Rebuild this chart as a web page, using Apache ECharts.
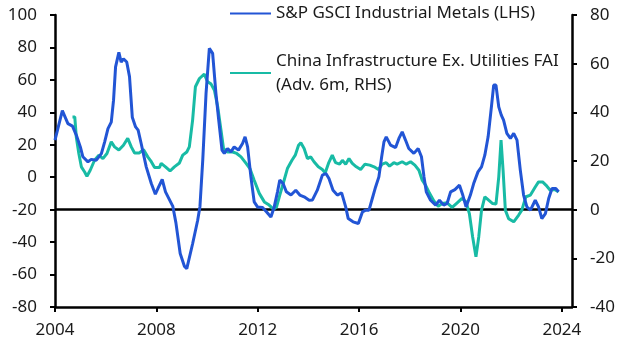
<!DOCTYPE html>
<html>
<head>
<meta charset="utf-8">
<script src="https://cdn.jsdelivr.net/npm/echarts@6/dist/echarts.min.js"></script>
<style>
  html, body { margin: 0; padding: 0; background: #fff; }
  #chart { width: 626px; height: 352px; }
</style>
</head>
<body>
<div id="chart"></div>
<script>
// S&P GSCI Industrial Metals, % y/y (LHS)
const metalsYears = [
  2004.0, 2004.29, 2004.51, 2004.69, 2004.84, 2005.0, 2005.1, 2005.3, 2005.43, 2005.63,
  2005.83, 2005.96, 2006.09, 2006.22, 2006.31, 2006.39, 2006.52, 2006.61, 2006.7, 2006.83,
  2006.94, 2007.05, 2007.18, 2007.28, 2007.4, 2007.6, 2007.8, 2007.96, 2008.09, 2008.23,
  2008.36, 2008.49, 2008.65, 2008.77, 2008.94, 2009.11, 2009.2, 2009.43, 2009.63, 2009.72,
  2009.83, 2009.96, 2010.09, 2010.22, 2010.35, 2010.46, 2010.59, 2010.68, 2010.81, 2010.94,
  2011.07, 2011.24, 2011.4, 2011.5, 2011.6, 2011.73, 2011.86, 2011.99, 2012.19, 2012.35,
  2012.52, 2012.65, 2012.78, 2012.87, 2013.0, 2013.13, 2013.31, 2013.5, 2013.66, 2013.83,
  2014.03, 2014.16, 2014.35, 2014.55, 2014.69, 2014.81, 2014.97, 2015.14, 2015.31, 2015.47,
  2015.57, 2015.76, 2015.97, 2016.13, 2016.26, 2016.39, 2016.52, 2016.65, 2016.78, 2016.89,
  2016.98, 2017.07, 2017.24, 2017.44, 2017.57, 2017.7, 2017.83, 2017.96, 2018.16, 2018.33,
  2018.46, 2018.56, 2018.65, 2018.82, 2019.02, 2019.17, 2019.34, 2019.47, 2019.61, 2019.78,
  2019.96, 2020.09, 2020.22, 2020.39, 2020.52, 2020.69, 2020.83, 2020.96, 2021.09, 2021.22,
  2021.31, 2021.4, 2021.51, 2021.61, 2021.7, 2021.83, 2021.97, 2022.1, 2022.23, 2022.36,
  2022.49, 2022.62, 2022.76, 2022.95, 2023.08, 2023.21, 2023.35, 2023.48, 2023.61, 2023.76,
  2023.87
];
const metalsValues = [
  22.8, 41, 33, 31.5, 26, 18.7, 12.6, 9.5, 11, 10.5,
  14.6, 21.8, 30, 34, 47.5, 68, 77, 71, 73, 71,
  62, 37, 31, 29, 20.8, 6.4, -3.9, -10.5, -6, -1.4,
  -9, -13, -18, -28, -47, -55, -56.3, -41, -26.5, -18,
  10.5, 51.7, 79.4, 76.3, 51.7, 35.2, 16.7, 14.7, 17.7, 15.6,
  18.7, 16.7, 20.8, 24.9, 18.7, 0.2, -15.2, -18.3, -18.7, -21.4,
  -24.5, -18.3, -9, -1.8, -3.9, -9, -11, -8, -11, -12.1,
  -14.2, -14, -8, 1.3, 2.3, -0.8, -8, -11, -9.6, -18.3,
  -25.5, -27.5, -28.5, -21.4, -20.3, -20.3, -13.1, -6, 0.2, 12.6,
  21.8, 24.9, 19.8, 18.3, 23.9, 28, 22.9, 17.7, 14.7, 17.7,
  12.6, 0.2, -9, -14.2, -17.2, -14.2, -17.2, -16.2, -9, -7.6,
  -4.9, -11, -18.3, -11, -3.9, 3.3, 6.4, 13.6, 24.9, 43.4,
  56.8, 56.8, 43.4, 38.3, 35.2, 27, 23.9, 27, 22.9, 4.4,
  -11, -18.3, -20.3, -14.2, -18.3, -25.5, -22.4, -13.1, -7, -7,
  -9
];

// China infrastructure ex. utilities FAI, % y/y, advanced 6m (RHS)
const faiYears = [
  2004.69, 2004.78, 2004.84, 2004.94, 2005.04, 2005.17, 2005.26, 2005.39, 2005.56, 2005.73,
  2005.89, 2006.05, 2006.22, 2006.35, 2006.52, 2006.7, 2006.87, 2007.01, 2007.14, 2007.33,
  2007.49, 2007.66, 2007.8, 2007.93, 2008.12, 2008.19, 2008.36, 2008.54, 2008.71, 2008.91,
  2009.04, 2009.2, 2009.3, 2009.43, 2009.54, 2009.7, 2009.89, 2010.02, 2010.16, 2010.29,
  2010.42, 2010.55, 2010.65, 2010.81, 2011.01, 2011.17, 2011.34, 2011.54, 2011.69, 2011.86,
  2012.06, 2012.26, 2012.45, 2012.62, 2012.74, 2012.87, 2013.04, 2013.17, 2013.35, 2013.48,
  2013.61, 2013.7, 2013.83, 2013.96, 2014.09, 2014.22, 2014.39, 2014.55, 2014.66, 2014.79,
  2014.94, 2015.07, 2015.23, 2015.34, 2015.47, 2015.6, 2015.73, 2015.89, 2016.06, 2016.23,
  2016.42, 2016.59, 2016.76, 2016.91, 2017.07, 2017.2, 2017.37, 2017.5, 2017.7, 2017.86,
  2018.03, 2018.2, 2018.36, 2018.49, 2018.62, 2018.78, 2018.95, 2019.12, 2019.28, 2019.47,
  2019.67, 2019.87, 2020.06, 2020.22, 2020.35, 2020.48, 2020.61, 2020.72, 2020.83, 2020.96,
  2021.11, 2021.27, 2021.4, 2021.51, 2021.6, 2021.68, 2021.77, 2021.9, 2022.1, 2022.29,
  2022.42, 2022.58, 2022.76, 2022.95, 2023.08, 2023.24, 2023.37, 2023.54, 2023.72, 2023.87
];
const faiValues = [
  38.1, 38.1, 29.9, 23.1, 17.6, 15.5, 13.7, 16.2, 20.3, 22.4,
  21, 23.1, 27.9, 25.8, 24.5, 26.5, 29.3, 25.8, 23.3, 23.3,
  24.7, 21.7, 19.7, 17.3, 17.3, 19, 17.6, 15.9, 17.6, 19.2,
  22.4, 23.7, 25.8, 36.8, 50.5, 53.9, 55.7, 52.6, 51.6, 49.1,
  42.3, 32.7, 25.1, 23.7, 23.7, 23.1, 21.7, 19, 16.9, 12.1,
  6.7, 3.2, 1.9, 0.2, 1.1, 6, 12.1, 16.9, 20.3, 22.4,
  26.5, 27.5, 25.1, 21, 21.7, 19.7, 17.6, 16.5, 15.1, 19,
  22.4, 19.3, 18.7, 20.3, 18.7, 21, 19, 17.6, 16.5, 18.7,
  18.3, 17.6, 16.5, 18.7, 19.3, 17.9, 19.3, 18.7, 19.7, 18.7,
  19.7, 18.3, 16.2, 12.1, 10.1, 6.7, 3.6, 1.4, 2.5, 2.8,
  0.9, 2.8, 4.6, 3.2, -1.6, -11.2, -19.4, -11.2, -0.2, 5.3,
  3.9, 2.5, 2.3, 13.5, 28.6, 16.3, -0.2, -3.7, -5, -2.3,
  -0.2, 5.3, 6, 9.3, 11.4, 11.4, 10.1, 8, 8.3, 7.3
];

const yearTicks = [2004, 2008, 2012, 2016, 2020, 2024];
const metalsName = 'S&P GSCI Industrial Metals (LHS)';
const faiName = 'China Infrastructure Ex. Utilities FAI\n(Adv. 6m, RHS)';

const zip = (xs, ys) => xs.map((x, i) => [x, ys[i]]);

const font = 'Noto Sans';
const axisColor = '#000';
const textColor = '#1a1a1a';

const chart = echarts.init(document.getElementById('chart'));

chart.setOption({
  animation: false,
  textStyle: { fontFamily: font },
  grid: { left: 55, right: 54, top: 15, bottom: 45, containLabel: false },
  legend: [
    {
      data: [metalsName],
      left: 229, top: 5, padding: 0,
      itemWidth: 41, itemHeight: 14,
      itemStyle: { opacity: 0 },
      textStyle: { fontFamily: font, fontSize: 17, color: textColor, lineHeight: 14 }
    },
    {
      data: [{
        name: faiName,
        textStyle: { padding: [24, 0, 0, 0] }
      }],
      left: 229, top: 37, padding: 0,
      itemWidth: 41, itemHeight: 14,
      itemStyle: { opacity: 0 },
      textStyle: { fontFamily: font, fontSize: 17, color: textColor, lineHeight: 24 }
    }
  ],
  xAxis: {
    type: 'value',
    min: 2004, max: 2024.4, interval: 4,
    axisLine: { show: true, onZero: false, lineStyle: { color: axisColor, width: 2.5 } },
    axisTick: { show: true, length: 5, customValues: yearTicks, lineStyle: { color: axisColor, width: 2 } },
    axisLabel: { customValues: yearTicks, fontSize: 17, color: textColor, margin: 15, formatter: v => String(v) },
    splitLine: { show: false }
  },
  yAxis: [
    {
      type: 'value', position: 'left',
      min: -80, max: 100, interval: 20,
      axisLine: { show: true, onZero: false, lineStyle: { color: axisColor, width: 2.5 } },
      axisTick: { show: true, length: 5, lineStyle: { color: axisColor, width: 2 } },
      axisLabel: { fontSize: 17, color: textColor, margin: 18 },
      splitLine: { show: false }
    },
    {
      type: 'value', position: 'right',
      min: -40, max: 80, interval: 20,
      axisLine: { show: true, onZero: false, lineStyle: { color: axisColor, width: 2.5 } },
      axisTick: { show: true, length: 5, lineStyle: { color: axisColor, width: 2 } },
      axisLabel: { fontSize: 17, color: textColor, margin: 18 },
      splitLine: { show: false }
    }
  ],
  series: [
    {
      name: faiName,
      type: 'line',
      yAxisIndex: 1,
      data: zip(faiYears, faiValues),
      symbol: 'none',
      lineStyle: { color: '#18bba5', width: 3 },
      itemStyle: { color: '#18bba5' },
      z: 2
    },
    {
      name: metalsName,
      type: 'line',
      yAxisIndex: 0,
      data: zip(metalsYears, metalsValues),
      symbol: 'none',
      lineStyle: { color: '#2255d5', width: 3 },
      itemStyle: { color: '#2255d5' },
      z: 3,
      markLine: {
        silent: true,
        symbol: ['none', 'none'],
        label: { show: false },
        lineStyle: { color: '#000', width: 2.5, type: 'solid' },
        data: [{ yAxis: -20 }],
        z: 1
      }
    }
  ]
});
</script>
</body>
</html>
